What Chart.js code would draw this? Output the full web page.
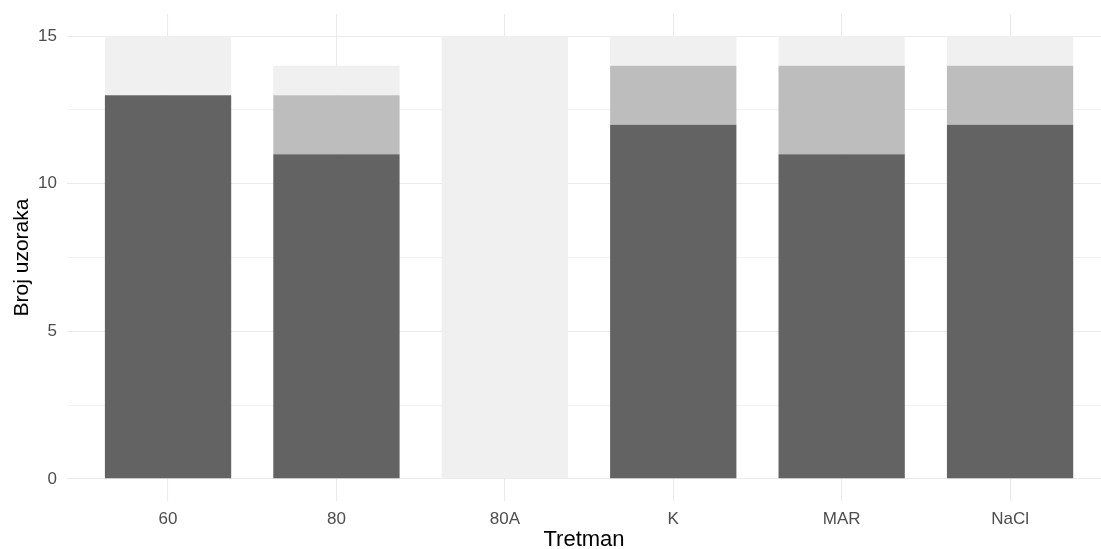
<!DOCTYPE html>
<html>
<head>
<meta charset="utf-8">
<script src="https://cdn.jsdelivr.net/npm/chart.js@4/dist/chart.umd.min.js"></script>
<style>
  html, body { margin: 0; padding: 0; background: #ffffff; overflow: hidden; }
  #wrap { width: 1101px; height: 549px; }
</style>
</head>
<body>
<div id="wrap"><canvas id="c" width="1101" height="549"></canvas></div>
<script>
const categories = ["60", "80", "80A", "K", "MAR", "NaCl"];
const darkCounts  = [13, 11, 0, 12, 11, 12];
const midCounts   = [0, 2, 0, 2, 3, 2];
const lightCounts = [2, 1, 15, 1, 1, 1];
const yTickValues = [0, 2.5, 5, 7.5, 10, 12.5, 15];

const toPoints = arr => arr.map((v, i) => ({ x: i + 1, y: v }));
const FONT = "'Liberation Sans', Arial, Helvetica, sans-serif";

new Chart(document.getElementById('c'), {
  type: 'bar',
  data: {
    datasets: [
      { label: 'dark', data: toPoints(darkCounts), backgroundColor: '#636363', borderWidth: 0 },
      { label: 'mid', data: toPoints(midCounts), backgroundColor: '#bdbdbd', borderWidth: 0 },
      { label: 'light', data: toPoints(lightCounts), backgroundColor: '#f0f0f0', borderWidth: 0 }
    ]
  },
  options: {
    responsive: false,
    animation: false,
    events: [],
    layout: { padding: { top: 14, right: 0, left: 0, bottom: 0 } },
    datasets: { bar: { barPercentage: 0.75, categoryPercentage: 1.0 } },
    plugins: { legend: { display: false }, tooltip: { enabled: false } },
    scales: {
      x: {
        type: 'linear',
        stacked: true,
        offset: false,
        min: 0.4,
        max: 6.54,
        afterBuildTicks: s => { s.ticks = categories.map((c, i) => ({ value: i + 1 })); },
        afterFit: s => { s.height = 48; s.paddingLeft = 0; s.paddingRight = 0; },
        ticks: {
          callback: v => categories[Math.round(v) - 1],
          color: '#4d4d4d',
          font: { family: FONT, size: 17 },
          padding: 8,
          maxRotation: 0,
          autoSkip: false
        },
        grid: { color: '#ebebeb', lineWidth: 1.1, drawTicks: false, offset: false },
        border: { display: false },
        title: {
          display: true,
          text: 'Tretman',
          color: '#000000',
          font: { family: FONT, size: 22, lineHeight: 0.8 },
          padding: { top: 0, bottom: 0 }
        }
      },
      y: {
        type: 'linear',
        stacked: true,
        min: -0.75,
        max: 15.75,
        afterBuildTicks: s => { s.ticks = yTickValues.map(v => ({ value: v })); },
        afterFit: s => { s.width = 67; s.paddingTop = 0; s.paddingBottom = 0; },
        ticks: {
          callback: v => (v % 5 === 0 ? String(v) : ''),
          color: '#4d4d4d',
          font: { family: FONT, size: 17 },
          padding: 10
        },
        grid: {
          color: '#ebebeb',
          lineWidth: ctx => (ctx.tick && ctx.tick.value % 5 === 0 ? 1.1 : 0.6),
          drawTicks: false
        },
        border: { display: false },
        title: {
          display: true,
          text: 'Broj uzoraka',
          color: '#000000',
          font: { family: FONT, size: 21, lineHeight: 1 },
          padding: { top: 12, bottom: 0 }
        }
      }
    }
  }
});
</script>
</body>
</html>
